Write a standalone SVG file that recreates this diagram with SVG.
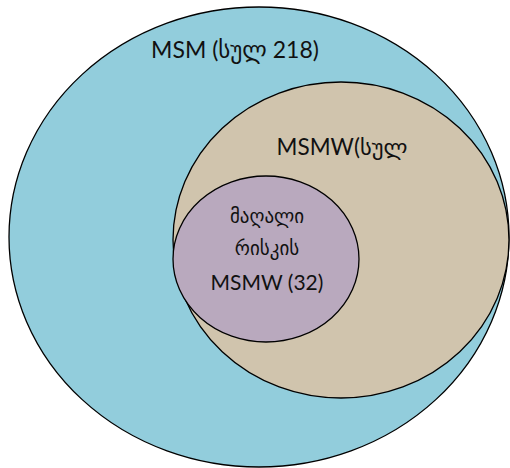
<svg xmlns="http://www.w3.org/2000/svg" width="510" height="468" viewBox="0 0 510 468">
<style>
.e{stroke:#000;stroke-width:1.3}
text{font-family:Lato,"DejaVu Sans",sans-serif;font-size:21px;fill:#111;text-anchor:middle}
.t{font-size:23px}
.m{font-size:22.5px}
.g{font-size:19px}
</style>
<rect width="510" height="468" fill="#fff"/>
<g id="msm">
<ellipse class="e" cx="259" cy="237" rx="250" ry="230" fill="#92CDDC"/>
<text class="t" x="235" y="58">MSM (სულ 218)</text>
</g>
<g id="msmw">
<ellipse class="e" cx="341" cy="240" rx="168" ry="158" fill="#D0C4AD"/>
<text class="m" x="342" y="155">MSMW(სულ</text>
</g>
<g id="high-risk">
<ellipse class="e" cx="266" cy="259" rx="93" ry="83" fill="#B9A9BE"/>
<text class="g" x="267" y="223">მაღალი</text>
<text class="g" x="267" y="255">რისკის</text>
<text x="267" y="290">MSMW (32)</text>
</g>
<g id="connectors"/>
</svg>
